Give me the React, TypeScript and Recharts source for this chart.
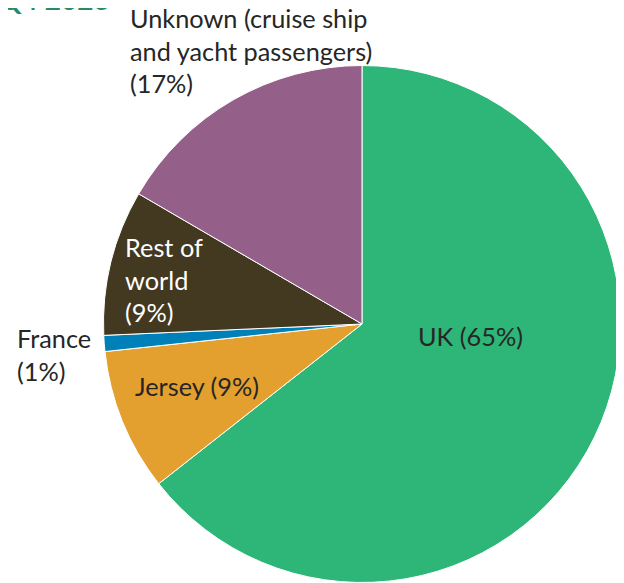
import React from 'react';
import { PieChart, Pie, Cell } from 'recharts';

// Visitor origin shares (clockwise from 12 o'clock)
const categories = ['UK', 'Jersey', 'France', 'Rest of world', 'Unknown'];
const shares = [64.4, 8.9, 1.0, 9.1, 16.6];
const labelLines = [
  ['UK (65%)'],
  ['Jersey (9%)'],
  ['France', '(1%)'],
  ['Rest of', 'world', '(9%)'],
  ['Unknown (cruise ship', 'and yacht passengers)', '(17%)'],
];
const title = 'Q4 2023';

const sliceColors = ['#2db677', '#e3a02f', '#0080b9', '#433820', '#946089'];
const labelColors = ['#262626', '#262626', '#262626', '#ffffff', '#262626'];
// left edge / first baseline of each label, relative to the pie centre
const labelOffsets = [
  { dx: 56, dy: 22 },
  { dx: -227, dy: 72 },
  { dx: -345, dy: 24 },
  { dx: -237, dy: -67 },
  { dx: -232, dy: -296 },
];

const pieData = categories.map((name, i) => ({ name, value: shares[i] }));

const FONT = 'Lato, "Open Sans", sans-serif';
const LINE_H = 32.5;

const renderLabel = (props: any) => {
  const { cx, cy, index } = props;
  const off = labelOffsets[index];
  const x = cx + off.dx;
  const y = cy + off.dy;
  return (
    <text
      key={`lbl-${index}`}
      x={x}
      y={y}
      fill={labelColors[index]}
      fontFamily={FONT}
      fontSize={25.3}
      textAnchor="start"
    >
      {labelLines[index].map((line, j) => (
        <tspan key={j} x={x} dy={j === 0 ? 0 : LINE_H}>
          {line}
        </tspan>
      ))}
    </text>
  );
};

export default function App() {
  return (
    <div style={{ margin: '-8px 0 0 -8px', width: 624, height: 583, background: '#fff', position: 'relative' }}>
      <div
        style={{
          position: 'absolute',
          left: -1,
          top: -16,
          zIndex: 1,
          color: '#2a8b63',
          fontFamily: FONT,
          fontWeight: 700,
          fontSize: 28,
          lineHeight: '31px',
          whiteSpace: 'nowrap',
        }}
      >
        {title}
      </div>
      <PieChart width={624} height={583} margin={{ top: 0, right: 0, bottom: 0, left: 0 }}>
        <Pie
          data={pieData}
          dataKey="value"
          nameKey="name"
          cx={362}
          cy={324}
          outerRadius={258.5}
          startAngle={90}
          endAngle={-270}
          stroke="#ffffff"
          strokeWidth={1}
          label={renderLabel}
          labelLine={false}
          isAnimationActive={false}
        >
          {pieData.map((d, i) => (
            <Cell key={d.name} fill={sliceColors[i]} />
          ))}
        </Pie>
      </PieChart>
    </div>
  );
}
